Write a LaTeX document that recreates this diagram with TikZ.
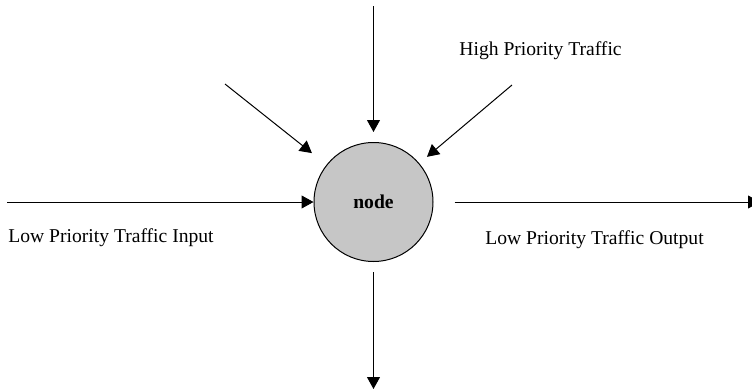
\documentclass[tikz,border=0pt]{standalone}
\usepackage{fontspec}
\setmainfont{Liberation Serif}
\usetikzlibrary{arrows.meta}

\begin{document}
\begin{tikzpicture}[
                x=0.5pt, y=-0.5pt,
                >={Triangle[length=6pt, width=6.5pt]},
                font=\fontsize{9.8}{11}\selectfont,
                router/.style={circle, draw, fill=gray!45, line width=0.5pt,
                        minimum size=59.5pt, inner sep=0pt, font=\fontsize{9.8}{11}\selectfont\bfseries},
                arrow/.style={->, line width=0.5pt},
                traffic/.style={inner sep=0pt, anchor=west},
            ]

            \useasboundingbox (0,0) rectangle (752,392);

            % --- centre -----------------------------------------------------
            \node[router] (core) at (373.5,202) {node};

            % --- free ends --------------------------------------------------
            \coordinate (in_top)  at (373.5,6);
            \coordinate (in_ul)   at (225,84);
            \coordinate (in_ur)   at (512,85);
            \coordinate (in_low)  at (7,202);
            \coordinate (out_low) at (760,202);
            \coordinate (out_bot) at (373.5,389);

            % --- labels -----------------------------------------------------
            \node[traffic] (high)    at (459,51)  {High Priority Traffic};
            \node[traffic] (low_in)  at (8,238)   {Low Priority Traffic Input};
            \node[traffic] (low_out) at (485,240) {Low Priority Traffic Output};

            % --- inputs -----------------------------------------------------
            \draw[arrow, shorten >=5pt]   (in_top) -- (core);
            \draw[arrow, shorten >=9.3pt] (in_ul)  -- (core);
            \draw[arrow, shorten >=5pt]   (in_ur)  -- (core);
            \draw[arrow] (in_low) -- (core);

            % --- outputs ----------------------------------------------------
            \draw[arrow, shorten <=10.5pt] (core) -- (out_low);
            \draw[arrow, shorten <=5pt]    (core) -- (out_bot);
        \end{tikzpicture}
\end{document}
